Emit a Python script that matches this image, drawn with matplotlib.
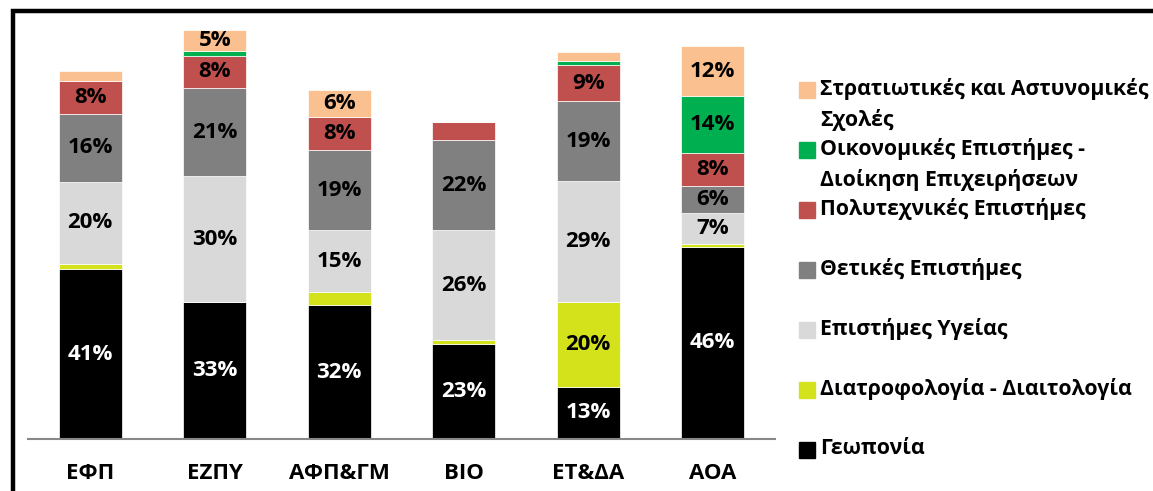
import numpy as np
import matplotlib
matplotlib.use("Agg")
import matplotlib.pyplot as plt
from matplotlib.patches import Rectangle

plt.rcParams['font.family'] = ['Open Sans', 'DejaVu Sans']
plt.rcParams['font.weight'] = 'bold'

# δεδομένα
categories = ['ΕΦΠ', 'ΕΖΠΥ', 'ΑΦΠ&ΓΜ', 'ΒΙΟ', 'ΕΤ&ΔΑ', 'ΑΟΑ']
geoponia = [41, 33, 32.4, 22.9, 12.7, 46.4]
diatrofi = [1.2, 0, 3.0, 1.0, 20.4, 0.7]
ygeias = [19.8, 30.3, 14.9, 26.4, 29.0, 7.4]
thetikes = [16.4, 21.2, 19.4, 21.8, 19.3, 6.4]
polytex = [7.9, 7.9, 8.0, 4.3, 8.7, 8.1]
oikonom = [0, 1.0, 0, 0, 0.9, 13.6]
stratiot = [2.5, 5.2, 6.4, 0, 2.3, 12.1]

series_names = ['Γεωπονία', 'Διατροφολογία - Διαιτολογία', 'Επιστήμες Υγείας',
                'Θετικές Επιστήμες', 'Πολυτεχνικές Επιστήμες',
                'Οικονομικές Επιστήμες -\nΔιοίκηση Επιχειρήσεων',
                'Στρατιωτικές και Αστυνομικές\nΣχολές']
series = [geoponia, diatrofi, ygeias, thetikes, polytex, oikonom, stratiot]
colors = ['#000000', '#D4E21B', '#D9D9D9', '#808080', '#C0504D', '#00B050', '#FAC090']

W, H = 1153, 491
fig = plt.figure(figsize=(W / 100, H / 100), dpi=100)
ax = fig.add_axes([28 / W, 1 - 439.3 / H, (775 - 28) / W, (439.3 - 24) / H])

x = np.arange(len(categories))
bottom = np.zeros(len(categories))
for vals, col in zip(series, colors):
    vals = np.array(vals, dtype=float)
    ax.bar(x, vals, 0.51, bottom=bottom, color=col, edgecolor='white', linewidth=0.5)
    for xi, b, v in zip(x, bottom, vals):
        if v >= 5:
            tc = 'white' if col == '#000000' else 'black'
            ax.text(xi, b + v / 2, f'{v:.0f}%', ha='center', va='center',
                    fontsize=16, fontweight='bold', color=tc)
    bottom += vals

ax.set_xlim(-0.5, len(categories) - 0.5)
ax.set_ylim(0, 100)
ax.set_xticks(x)
ax.set_xticklabels(categories, fontsize=16, fontweight='bold')
ax.tick_params(axis='x', length=0, pad=17)
ax.set_yticks([])
for s in ['top', 'right', 'left']:
    ax.spines[s].set_visible(False)
ax.spines['bottom'].set_color('#888888')
ax.spines['bottom'].set_linewidth(1.5)

# υπόμνημα
legend_y = [450, 390, 330, 270, 210, 150, 90]
for name, col, yy in zip(series_names, colors, legend_y):
    fig.patches.append(Rectangle((799 / W, 1 - (yy + 8) / H), 16 / W, 16 / H,
                                 transform=fig.transFigure, color=col))
    fig.text(820 / W, 1 - (yy - 12) / H, name, ha='left', va='top',
             fontsize=15.3, fontweight='bold', linespacing=1.55)

# πλαίσιο
fig.patches.append(Rectangle((13 / W, -0.2), 1.2, 1.2 - 10.5 / H,
                             transform=fig.transFigure, fill=False,
                             edgecolor='black', linewidth=3.2))

fig.savefig('out.png', dpi=100)
